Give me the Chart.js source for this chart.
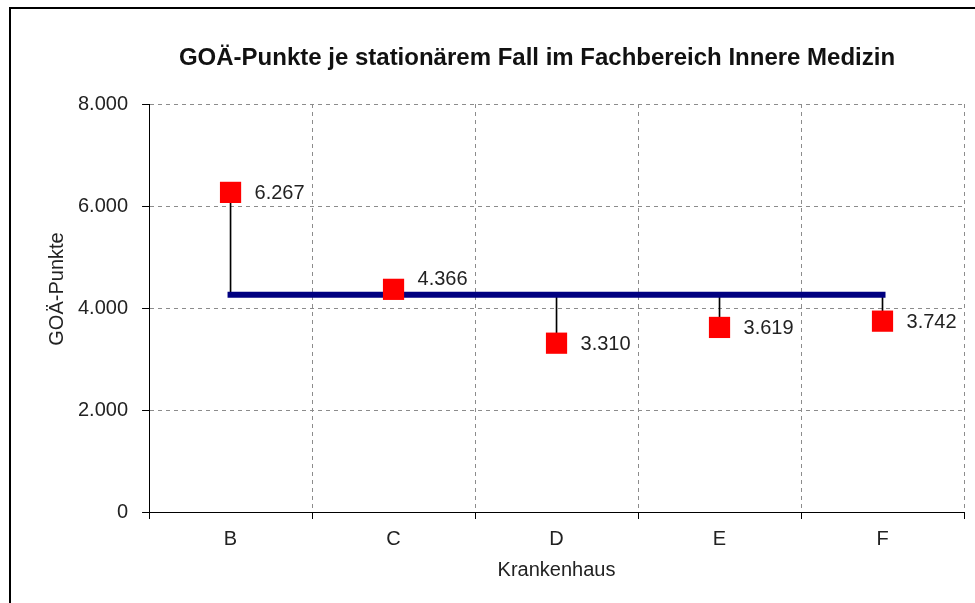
<!DOCTYPE html>
<html lang="de">
<head>
<meta charset="utf-8">
<title>GOÄ-Punkte je stationärem Fall</title>
<script src="https://cdn.jsdelivr.net/npm/chart.js@4"></script>
<style>
  html, body { margin: 0; padding: 0; background: #fff; overflow: hidden; width: 975px; height: 603px; }
  #frame {
    position: absolute; left: 9px; top: 7px;
    width: 1100px; height: 700px;
    border: 2px solid #000;
  }
  #chart { position: absolute; left: 0; top: 0; }
</style>
</head>
<body>
<div id="frame"></div>
<canvas id="chart" width="979" height="603"></canvas>
<script>
// Krankenhäuser (Kategorien)
const hospitals = ['B', 'C', 'D', 'E', 'F'];

// GOÄ-Punkte je stationärem Fall
const points = [6267, 4366, 3310, 3619, 3742];

// Durchschnittslinie über alle Häuser
const averageLine = [4261, 4261, 4261, 4261, 4261];

// Achsenbeschriftung der y-Achse
const yTicks = [0, 2000, 4000, 6000, 8000];

const chartTitle = 'GOÄ-Punkte je stationärem Fall im Fachbereich Innere Medizin';
const yTitle = 'GOÄ-Punkte';
const xTitle = 'Krankenhaus';

const FONT = '"Liberation Sans", Arial, sans-serif';

// 8000 -> "8.000"
function formatDe(v) {
    return String(v).replace(/\B(?=(\d{3})+(?!\d))/g, '.');
}

// Verbindungslinien vom Durchschnitt zum jeweiligen Wert
const dropLines = hospitals.map((_, i) => [averageLine[i], points[i]]);

// Titel, y-Achsentitel und Wertbeschriftungen
const textPlugin = {
    id: 'texts',
    afterDatasetsDraw(chart) {
        const ctx = chart.ctx;
        const x = chart.scales.x;
        const y = chart.scales.y;
        ctx.save();
        ctx.fillStyle = '#222';
        ctx.font = '20px ' + FONT;
        ctx.textAlign = 'left';
        ctx.textBaseline = 'middle';
        points.forEach((v, i) => {
            const px = x.getPixelForValue(i);
            let py = y.getPixelForValue(v);
            const avgY = y.getPixelForValue(averageLine[i]);
            // Beschriftung nicht auf die Durchschnittslinie legen
            if (Math.abs(py - avgY) < 14) py = avgY - 16;
            ctx.fillText(formatDe(v), px + 24, py + 1);
        });
        ctx.restore();
    },
    afterDraw(chart) {
        const ctx = chart.ctx;
        ctx.save();
        ctx.fillStyle = '#111';
        ctx.font = 'bold 24px ' + FONT;
        ctx.textAlign = 'center';
        ctx.textBaseline = 'alphabetic';
        ctx.fillText(chartTitle, 537, 65);

        ctx.fillStyle = '#222';
        ctx.font = '20px ' + FONT;
        ctx.translate(63, 289);
        ctx.rotate(-Math.PI / 2);
        ctx.fillText(yTitle, 0, 0);
        ctx.restore();
    }
};

const ctx = document.getElementById('chart').getContext('2d');
const chart = new Chart(ctx, {
    type: 'bar',
    data: {
        labels: hospitals,
        datasets: [
            {
                type: 'line',
                label: 'GOÄ-Punkte',
                data: points,
                showLine: false,
                pointStyle: 'rect',
                pointRadius: 15,
                pointHoverRadius: 15,
                pointBackgroundColor: '#ff0000',
                pointBorderColor: '#ff0000',
                pointBorderWidth: 0,
                order: 0
            },
            {
                type: 'line',
                label: 'Durchschnitt',
                data: averageLine,
                borderColor: '#000080',
                borderWidth: 6,
                borderCapStyle: 'square',
                pointRadius: 0,
                fill: false,
                order: 1
            },
            {
                type: 'bar',
                label: 'Abweichung',
                data: dropLines,
                backgroundColor: '#000',
                borderWidth: 0,
                barThickness: 1,
                order: 2
            }
        ]
    },
    options: {
        responsive: false,
        animation: false,
        events: [],
        layout: {
            padding: { left: 64, right: 11, top: 104, bottom: 17 }
        },
        plugins: {
            legend: { display: false },
            tooltip: { enabled: false },
            title: { display: false }
        },
        scales: {
            x: {
                type: 'category',
                offset: true,
                grid: {
                    offset: true,
                    color: '#8c8c8c',
                    lineWidth: 1,
                    tickColor: '#000',
                    tickLength: 7
                },
                border: { display: true, color: '#000', width: 1, dash: [4, 4] },
                ticks: {
                    color: '#222',
                    font: { family: FONT, size: 20 },
                    padding: 8
                },
                title: {
                    display: true,
                    text: xTitle,
                    color: '#222',
                    font: { family: FONT, size: 20 },
                    padding: { top: -1, bottom: 4 }
                }
            },
            y: {
                min: 0,
                max: 8000,
                grid: {
                    color: '#8c8c8c',
                    lineWidth: 1,
                    tickColor: '#000',
                    tickLength: 7
                },
                border: { display: true, color: '#000', width: 1, dash: [4, 4] },
                afterBuildTicks(scale) {
                    scale.ticks = yTicks.map(v => ({ value: v }));
                },
                ticks: {
                    color: '#222',
                    font: { family: FONT, size: 20 },
                    padding: 14,
                    callback: v => formatDe(v)
                }
            }
        }
    },
    plugins: [textPlugin]
});
</script>
</body>
</html>
